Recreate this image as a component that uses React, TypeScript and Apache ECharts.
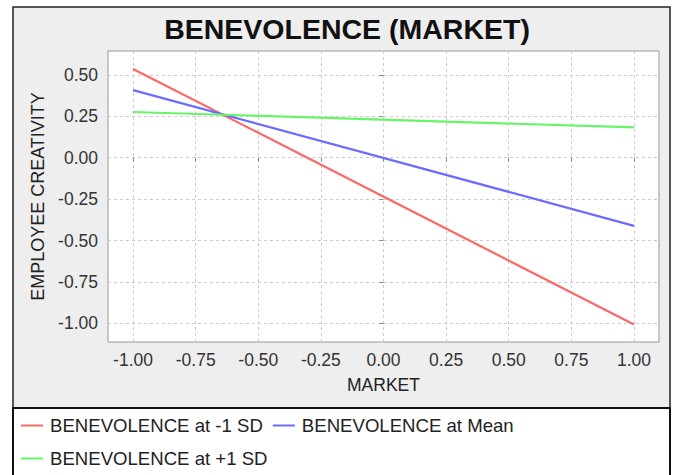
import React, { useEffect, useRef } from "react";
import * as echarts from "echarts";

const TITLE = "BENEVOLENCE (MARKET)";
const X_NAME = "MARKET";
const Y_NAME = "EMPLOYEE CREATIVITY";
const xValues = [-1, 1];
const lowSD = [0.536, -1.006];
const meanVals = [0.408, -0.411];
const highSD = [0.276, 0.183];
const seriesNames = ["BENEVOLENCE at -1 SD", "BENEVOLENCE at Mean", "BENEVOLENCE at +1 SD"];
const seriesColors = ["#ff6666", "#6b6bff", "#66f566"];
const xTicks = [-1, -0.75, -0.5, -0.25, 0, 0.25, 0.5, 0.75, 1];
const yTicks = [-1, -0.75, -0.5, -0.25, 0, 0.25, 0.5];

const FONT = "'Liberation Sans', Arial, sans-serif";

export default function App() {
  const ref = useRef<HTMLDivElement>(null);
  useEffect(() => {
    if (!ref.current) return;
    const chart = echarts.init(ref.current, undefined, { renderer: "svg" });
    const allSeries = [lowSD, meanVals, highSD];
    chart.setOption({
      animation: false,
      backgroundColor: "#ffffff",
      textStyle: { fontFamily: FONT },
      graphic: [
        {
          type: "rect",
          z: -10,
          shape: { x: 13, y: 7, width: 657, height: 401 },
          style: { fill: "#eeeeee", stroke: "#222222", lineWidth: 1.5 },
          silent: true,
        },
        {
          type: "rect",
          z: -10,
          shape: { x: 13, y: 408, width: 657, height: 80 },
          style: { fill: "#ffffff", stroke: "#111111", lineWidth: 2 },
          silent: true,
        },
      ],
      title: {
        text: TITLE,
        left: 342,
        textAlign: "center",
        top: 9,
        textStyle: { fontFamily: FONT, fontSize: 28.5, fontWeight: "bold", color: "#111111" },
      },
      grid: {
        left: 108,
        top: 51,
        width: 551,
        height: 291,
        show: true,
        backgroundColor: "#ffffff",
        borderColor: "#999999",
        borderWidth: 1,
      },
      xAxis: {
        type: "value",
        min: -1.1,
        max: 1.1,
        name: X_NAME,
        nameLocation: "middle",
        nameGap: 34,
        nameTextStyle: { fontFamily: FONT, fontSize: 17.5, color: "#222222" },
        axisLine: { show: false },
        axisTick: { show: true, length: 4, lineStyle: { color: "#888888" }, customValues: xTicks },
        axisLabel: {
          customValues: xTicks,
          margin: 9,
          fontFamily: FONT,
          fontSize: 17.5,
          color: "#333333",
          formatter: (v: number) => v.toFixed(2),
        },
        splitLine: { show: true, lineStyle: { color: "#cccccc", type: [3, 3] } },
      },
      yAxis: {
        type: "value",
        min: -1.112,
        max: 0.644,
        name: Y_NAME,
        nameLocation: "middle",
        nameGap: 60,
        nameTextStyle: { fontFamily: FONT, fontSize: 18, color: "#222222" },
        axisLine: { show: false },
        axisTick: { show: true, length: 4, lineStyle: { color: "#888888" }, customValues: yTicks },
        axisLabel: {
          customValues: yTicks,
          margin: 10,
          fontFamily: FONT,
          fontSize: 17.5,
          color: "#333333",
          formatter: (v: number) => v.toFixed(2),
        },
        splitLine: { show: true, lineStyle: { color: "#cccccc", type: [3, 3] } },
      },
      legend: {
        left: 16,
        top: 409,
        width: 600,
        itemWidth: 22,
        itemHeight: 2,
        itemGap: 10,
        icon: "rect",
        data: seriesNames,
        textStyle: { fontFamily: FONT, fontSize: 18.6, color: "#222222", lineHeight: 23, padding: [0, 0, 0, 2] },
      },
      series: allSeries.map((vals, i) => ({
        name: seriesNames[i],
        type: "line",
        data: xValues.map((x, j) => [x, vals[j]]),
        showSymbol: false,
        symbol: "none",
        color: seriesColors[i],
        lineStyle: { color: seriesColors[i], width: 2.2 },
      })),
    });
    return () => chart.dispose();
  }, []);
  return (
    <div
      ref={ref}
      style={{ position: "fixed", left: 0, top: 0, width: 676, height: 475 }}
    />
  );
}
